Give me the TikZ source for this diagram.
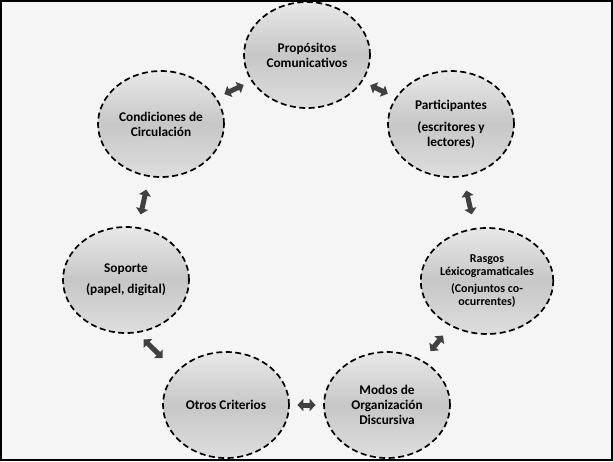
\documentclass[tikz,border=0pt]{standalone}
\usepackage{fontspec}
\setmainfont{Carlito}
\usetikzlibrary{shapes.geometric,arrows.meta}
\tikzset{
  bubble/.style={ellipse,draw,dash pattern=on 6pt off 3.5pt,line width=1.7pt,
    minimum width=126pt,minimum height=106pt,inner sep=0pt,
    top color=black!9,bottom color=black!13,middle color=black!22,
    align=center,font=\fontsize{13.3}{15}\selectfont\bfseries},
  link/.style={line width=5pt,black!75,
    {Triangle[length=6pt,width=12pt]}-{Triangle[length=6pt,width=12pt]}}
}
\begin{document}
\begin{tikzpicture}[x=1pt,y=-1pt]
\useasboundingbox (0,0) rectangle (613,461);
\draw[line width=2pt,fill=black!4] (1,1) rectangle (612,460);
\node[bubble] (prop) at (307,55) {Propósitos\\Comunicativos};
\node[bubble] (part) at (451,124) {Participantes\\[7pt](escritores y\\lectores)};
\node[bubble,font=\fontsize{12}{12.5}\selectfont\bfseries] (rasgos) at (487,281)
  {Rasgos\\Léxicogramaticales\\[5pt](Conjuntos co-\\ocurrentes)};
\node[bubble] (modos) at (387,405) {Modos de\\Organización\\Discursiva};
\node[bubble] (otros) at (226,405) {Otros Criterios};
\node[bubble] (soporte) at (126,280) {Soporte\\[6pt](papel, digital)};
\node[bubble] (cond) at (161,124) {Condiciones de\\Circulación};
% links round the circle
\draw[link,shorten <=8.5pt,shorten >=8.5pt] (cond) -- (prop);
\draw[link,shorten <=8.5pt,shorten >=8.5pt] (prop) -- (part);
\draw[link,shorten <=14pt,shorten >=14pt] (part) -- (rasgos);
\draw[link,shorten <=12pt,shorten >=12pt] (rasgos) -- (modos);
\draw[link,shorten <=7.5pt,shorten >=7.5pt] (otros) -- (modos);
\draw[link,shorten <=9pt,shorten >=19pt] (soporte.-78) -- (otros.146);
\draw[link,shorten <=13pt,shorten >=13pt] (cond) -- (soporte);
\end{tikzpicture}
\end{document}
